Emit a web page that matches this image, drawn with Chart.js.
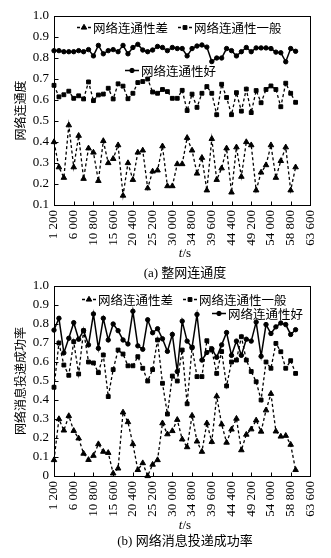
<!DOCTYPE html>
<html>
<head>
<meta charset="utf-8">
<script src="https://cdn.jsdelivr.net/npm/chart.js@4.4.1/dist/chart.umd.min.js"></script>
<style>
  html, body { margin: 0; padding: 0; background: #fff; }
  #wrap { position: relative; width: 331px; height: 558px; background: #fff; overflow: hidden; }
  .box { position: absolute; left: 0; width: 331px; height: 262px; }
  .txt { position: absolute; left: 54px; width: 262px; text-align: center; color: #000;
         font-family: "Liberation Serif", "Noto Sans CJK SC", serif; font-size: 13px; line-height: 15px; white-space: nowrap; }
</style>
</head>
<body>
<div id="wrap">
  <div class="box" style="top:0"><canvas id="c1"></canvas></div>
  <div class="box" style="top:270px"><canvas id="c2"></canvas></div>
  <div class="txt" style="top:245px"><i>t</i>/s</div>
  <div class="txt" style="top:265px">(a) 整网连通度</div>
  <div class="txt" style="top:517px"><i>t</i>/s</div>
  <div class="txt" style="top:533px">(b) 网络消息投递成功率</div>
</div>
<script>
// sampling times (s)
const times = [1200, 2400, 3600, 4800, 6000, 7200, 8400, 9600, 10800, 12000,
  13200, 14400, 15600, 16800, 18000, 19200, 20400, 21600, 22800, 24000,
  25200, 26400, 27600, 28800, 30000, 31200, 32400, 33600, 34800, 36000,
  37200, 38400, 39600, 40800, 42000, 43200, 44400, 45600, 46800, 48000,
  49200, 50400, 51600, 52800, 54000, 55200, 56400, 57600, 58800, 60000];
const xTicks = [1200, 6000, 10800, 15600, 20400, 25200, 30000, 34800, 39600, 44400, 49200, 54000, 58800, 63600];
const seriesNames = ["网络连通性差", "网络连通性一般", "网络连通性好"];

// (a) 整网连通度
const connPoor = [0.40, 0.28, 0.23, 0.48, 0.28, 0.43, 0.225, 0.37, 0.35, 0.215,
  0.405, 0.30, 0.32, 0.385, 0.145, 0.30, 0.22, 0.35, 0.36, 0.18,
  0.26, 0.265, 0.38, 0.19, 0.19, 0.295, 0.295, 0.42, 0.36, 0.25,
  0.325, 0.17, 0.415, 0.22, 0.275, 0.37, 0.16, 0.375, 0.235, 0.40,
  0.385, 0.17, 0.255, 0.29, 0.385, 0.23, 0.31, 0.375, 0.17, 0.28];
const connMid = [0.67, 0.615, 0.625, 0.642, 0.608, 0.62, 0.605, 0.686, 0.597, 0.624,
  0.628, 0.656, 0.605, 0.677, 0.666, 0.606, 0.632, 0.683, 0.688, 0.70,
  0.638, 0.632, 0.65, 0.64, 0.608, 0.608, 0.646, 0.55, 0.628, 0.565,
  0.632, 0.664, 0.632, 0.53, 0.675, 0.612, 0.53, 0.635, 0.547, 0.652,
  0.54, 0.645, 0.587, 0.65, 0.667, 0.65, 0.568, 0.68, 0.632, 0.589];
const connGood = [0.835, 0.835, 0.83, 0.83, 0.83, 0.835, 0.83, 0.84, 0.81, 0.86,
  0.82, 0.835, 0.84, 0.83, 0.86, 0.82, 0.85, 0.865, 0.838, 0.83,
  0.838, 0.855, 0.85, 0.835, 0.85, 0.845, 0.845, 0.81, 0.845, 0.857,
  0.862, 0.852, 0.783, 0.80, 0.80, 0.845, 0.835, 0.81, 0.83, 0.85,
  0.83, 0.848, 0.848, 0.848, 0.845, 0.828, 0.825, 0.782, 0.845, 0.832];

// (b) 网络消息投递成功率
const delivPoor = [0.084, 0.30, 0.24, 0.316, 0.238, 0.198, 0.118, 0.085, 0.107, 0.168,
  0.128, 0.122, 0.014, 0.04, 0.335, 0.284, 0.168, 0.032, 0.068, 0.0,
  0.06, 0.084, 0.278, 0.22, 0.237, 0.296, 0.193, 0.152, 0.318, 0.182,
  0.128, 0.278, 0.18, 0.42, 0.272, 0.176, 0.245, 0.302, 0.136, 0.218,
  0.246, 0.293, 0.234, 0.346, 0.433, 0.235, 0.208, 0.212, 0.165, 0.032];
const delivMid = [0.467, 0.70, 0.584, 0.53, 0.707, 0.537, 0.765, 0.60, 0.595, 0.544,
  0.637, 0.418, 0.56, 0.663, 0.642, 0.58, 0.58, 0.628, 0.567, 0.50,
  0.56, 0.716, 0.488, 0.326, 0.526, 0.50, 0.663, 0.38, 0.677, 0.523,
  0.523, 0.712, 0.663, 0.54, 0.655, 0.474, 0.60, 0.61, 0.733, 0.61,
  0.55, 0.496, 0.40, 0.60, 0.567, 0.698, 0.654, 0.567, 0.607, 0.54];
const delivGood = [0.768, 0.83, 0.648, 0.725, 0.807, 0.72, 0.765, 0.69, 0.853, 0.672,
  0.83, 0.716, 0.80, 0.765, 0.716, 0.695, 0.867, 0.685, 0.667, 0.822,
  0.754, 0.775, 0.722, 0.656, 0.745, 0.55, 0.815, 0.71, 0.677, 0.85,
  0.61, 0.65, 0.67, 0.625, 0.69, 0.755, 0.635, 0.71, 0.635, 0.72,
  0.71, 0.81, 0.63, 0.797, 0.75, 0.785, 0.805, 0.797, 0.745, 0.77];

const NUM_FONT = "'Liberation Serif', 'Times New Roman', serif";
const CJK_FONT = "'Noto Sans CJK SC', sans-serif";

function fmtX(v) {
  return String(v).replace(/\B(?=(\d{3})+(?!\d))/g, " ");
}

// frame, inward tick marks and in-plot legend
const framePlugin = {
  id: "frame",
  afterDraw(chart, args, opts) {
    const { ctx, chartArea: a, scales } = chart;
    const L = Math.round(a.left) + 0.5, R = Math.round(a.right) + 0.5;
    const T = Math.round(a.top) + 0.5, B = Math.round(a.bottom) + 0.5;
    ctx.save();
    ctx.strokeStyle = "#000";
    ctx.lineWidth = 1;
    ctx.setLineDash([]);
    ctx.strokeRect(L, T, R - L, B - T);
    ctx.beginPath();
    scales.x.ticks.forEach((t) => {
      const px = Math.round(scales.x.getPixelForValue(t.value)) + 0.5;
      ctx.moveTo(px, B);
      ctx.lineTo(px, B - 4);
    });
    scales.y.ticks.forEach((t) => {
      const py = Math.round(scales.y.getPixelForValue(t.value)) + 0.5;
      ctx.moveTo(L, py);
      ctx.lineTo(L + 4, py);
    });
    ctx.stroke();

    // legend
    (opts.items || []).forEach((it) => {
      const ds = chart.data.datasets[it.ds];
      ctx.beginPath();
      ctx.lineWidth = ds.borderWidth;
      ctx.setLineDash(ds.borderDash || []);
      ctx.moveTo(it.x, it.y + 0.5);
      ctx.lineTo(it.x + 14, it.y + 0.5);
      ctx.stroke();
      ctx.setLineDash([]);
      ctx.fillStyle = "#000";
      ctx.lineWidth = 1;
      Chart.helpers.drawPoint(ctx, {
        pointStyle: ds.pointStyle, radius: ds.pointRadius, rotation: 0, borderWidth: 1
      }, it.x + 7, it.y + 0.5);
      ctx.font = "12.5px " + CJK_FONT;
      ctx.textAlign = "left";
      ctx.textBaseline = "middle";
      ctx.fillText(ds.label, it.x + 16, it.y + 1);
    });
    ctx.restore();
  }
};

function makeChart(id, poor, mid, good, yMin, yTitle, legendItems, xHeight) {
  const common = { borderColor: "#000", pointBackgroundColor: "#000", pointBorderColor: "#000",
    pointBorderWidth: 1, fill: false, tension: 0, clip: false };
  return new Chart(document.getElementById(id), {
    type: "line",
    data: {
      datasets: [
        Object.assign({}, common, {
          label: seriesNames[0], data: times.map((t, i) => ({ x: t, y: poor[i] })),
          borderWidth: 1.3, borderDash: [3, 2.5], pointStyle: "triangle", pointRadius: 3.2
        }),
        Object.assign({}, common, {
          label: seriesNames[1], data: times.map((t, i) => ({ x: t, y: mid[i] })),
          borderWidth: 1.3, borderDash: [3, 2.5], pointStyle: "rect", pointRadius: 2.7
        }),
        Object.assign({}, common, {
          label: seriesNames[2], data: times.map((t, i) => ({ x: t, y: good[i] })),
          borderWidth: 1.5, pointStyle: "circle", pointRadius: 2.2
        })
      ]
    },
    options: {
      responsive: true,
      maintainAspectRatio: false,
      animation: false,
      events: [],
      layout: { padding: { top: 16, right: 15, left: 0, bottom: 0 } },
      plugins: {
        legend: { display: false },
        tooltip: { enabled: false },
        frame: { items: legendItems }
      },
      scales: {
        x: {
          type: "linear",
          min: 1200,
          max: 63600,
          grid: { display: false, drawTicks: false },
          border: { display: false },
          afterBuildTicks: (s) => { s.ticks = xTicks.map((v) => ({ value: v })); },
          afterFit: (s) => { s.height = xHeight; },
          ticks: {
            autoSkip: false,
            maxRotation: 90,
            minRotation: 90,
            padding: 5,
            color: "#000",
            font: { family: NUM_FONT, size: 13 },
            callback: (v) => fmtX(v)
          }
        },
        y: {
          min: yMin,
          max: 1.0,
          grid: { display: false, drawTicks: false },
          border: { display: false },
          afterFit: (s) => { s.width = 54; },
          ticks: {
            stepSize: 0.1,
            padding: 5,
            color: "#000",
            font: { family: NUM_FONT, size: 13 },
            callback: (v) => (Math.abs(v) < 1e-9 ? "0" : v.toFixed(1))
          },
          title: {
            display: true,
            text: yTitle,
            color: "#000",
            font: { family: CJK_FONT, size: 12 },
            padding: { top: 13, bottom: 0 }
          }
        }
      }
    },
    plugins: [framePlugin]
  });
}

makeChart("c1", connPoor, connMid, connGood, 0.1, "网络连通度",
  [{ ds: 0, x: 77, y: 27 }, { ds: 1, x: 178, y: 27 }, { ds: 2, x: 125, y: 70 }], 57);
makeChart("c2", delivPoor, delivMid, delivGood, 0, "网络消息投递成功率",
  [{ ds: 0, x: 82, y: 29 }, { ds: 1, x: 183, y: 29 }, { ds: 2, x: 212, y: 43 }], 56);
</script>
</body>
</html>
